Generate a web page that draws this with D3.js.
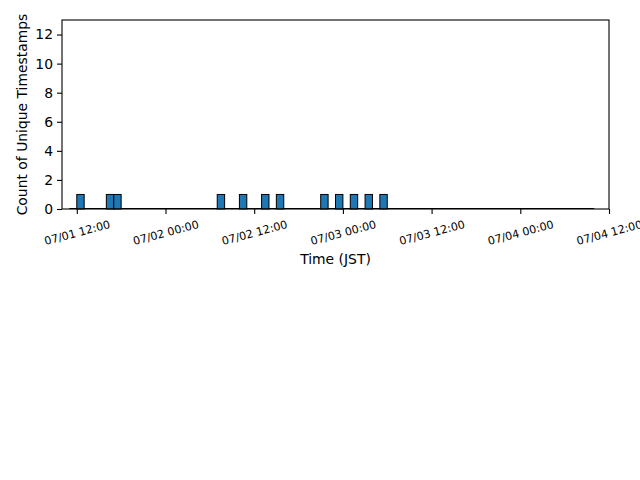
<!DOCTYPE html>
<html>
<head>
<meta charset="utf-8">
<script src="https://cdn.jsdelivr.net/npm/d3@7"></script>
<style>
  body { margin: 0; background: #fff; }
  text { font-family: "DejaVu Sans", sans-serif; fill: #000; }
</style>
</head>
<body>
<div id="chart"></div>
<script>
// hourly bins (JST) that hold one unique timestamp each
const barTimes = [
  "2025-07-01 12:00", "2025-07-01 16:00", "2025-07-01 17:00",
  "2025-07-02 07:00", "2025-07-02 10:00", "2025-07-02 13:00",
  "2025-07-02 15:00", "2025-07-02 21:00", "2025-07-02 23:00",
  "2025-07-03 01:00", "2025-07-03 03:00", "2025-07-03 05:00"
];
const barCounts = [1, 1, 1, 1, 1, 1, 1, 1, 1, 1, 1, 1];
const histRange = ["2025-07-01 11:00", "2025-07-04 10:00"];
const xLimits = ["2025-07-01 10:00", "2025-07-04 12:00"];
const xTicks = [
  "2025-07-01 12:00", "2025-07-02 00:00", "2025-07-02 12:00",
  "2025-07-03 00:00", "2025-07-03 12:00", "2025-07-04 00:00",
  "2025-07-04 12:00"
];
const yTicks = [0, 2, 4, 6, 8, 10, 12];
const yMax = 13;

window.onload = () => {
  drawChart();
};

let drawChart = () => {
  const parse = d3.utcParse("%Y-%m-%d %H:%M");
  const fmt = d3.utcFormat("%m/%d %H:%M");
  const hour = 3600 * 1000;

  const width = 640, height = 480;
  const margin = {left: 62, right: 31, top: 20, bottom: 271};
  const x0 = margin.left, x1 = width - margin.right;
  const y0 = height - margin.bottom, y1 = margin.top;

  const svg = d3.select("#chart").append("svg")
    .attr("width", width)
    .attr("height", height);

  const x = d3.scaleUtc()
    .domain(xLimits.map(parse))
    .range([x0, x1]);
  const y = d3.scaleLinear()
    .domain([0, yMax])
    .range([y0, y1]);

  const bars = barTimes.map((t, i) => ({t: parse(t), c: barCounts[i]}));

  // empty bins are drawn as a flat edge at zero
  svg.append("line")
    .attr("x1", x(parse(histRange[0])))
    .attr("x2", x(parse(histRange[1])))
    .attr("y1", y(0) - 0.5)
    .attr("y2", y(0) - 0.5)
    .attr("stroke", "#000")
    .attr("stroke-width", 1);

  svg.append("g")
    .selectAll("rect")
    .data(bars)
    .enter()
    .append("rect")
      .attr("x", d => x(d.t))
      .attr("width", d => x(new Date(+d.t + hour)) - x(d.t))
      .attr("y", d => y(d.c))
      .attr("height", d => y(0) - y(d.c))
      .attr("fill", "#1f77b4")
      .attr("stroke", "#000")
      .attr("stroke-width", 1);

  // frame
  svg.append("rect")
    .attr("x", x0)
    .attr("y", y1)
    .attr("width", x1 - x0)
    .attr("height", y0 - y1)
    .attr("fill", "none")
    .attr("stroke", "#000")
    .attr("stroke-width", 1.1);

  // x axis
  const xAxis = d3.axisBottom(x)
    .tickValues(xTicks.map(parse))
    .tickSize(5)
    .tickPadding(5)
    .tickFormat(fmt);
  const gx = svg.append("g")
    .attr("transform", `translate(0,${y0})`)
    .call(xAxis);
  gx.select(".domain").remove();
  gx.selectAll(".tick line").attr("stroke", "#000").attr("stroke-width", 1.1);
  gx.selectAll(".tick text")
    .attr("y", 0)
    .attr("dy", null)
    .attr("font-size", 11.1)
    .attr("text-anchor", "middle")
    .attr("dominant-baseline", "central")
    .attr("transform", "translate(0,24) rotate(-15)");

  // y axis
  const yAxis = d3.axisLeft(y)
    .tickValues(yTicks)
    .tickSize(5)
    .tickPadding(4)
    .tickFormat(d3.format("d"));
  const gy = svg.append("g")
    .attr("transform", `translate(${x0},0)`)
    .call(yAxis);
  gy.select(".domain").remove();
  gy.selectAll(".tick line").attr("stroke", "#000").attr("stroke-width", 1.1);
  gy.selectAll(".tick text").attr("font-size", 13.9);

  svg.append("text")
    .attr("x", (x0 + x1) / 2)
    .attr("y", 259)
    .attr("text-anchor", "middle")
    .attr("dominant-baseline", "central")
    .attr("font-size", 13.9)
    .text("Time (JST)");

  svg.append("text")
    .attr("transform", `translate(22,${(y0 + y1) / 2}) rotate(-90)`)
    .attr("text-anchor", "middle")
    .attr("dominant-baseline", "central")
    .attr("font-size", 13.9)
    .text("Count of Unique Timestamps");
};
</script>
</body>
</html>
